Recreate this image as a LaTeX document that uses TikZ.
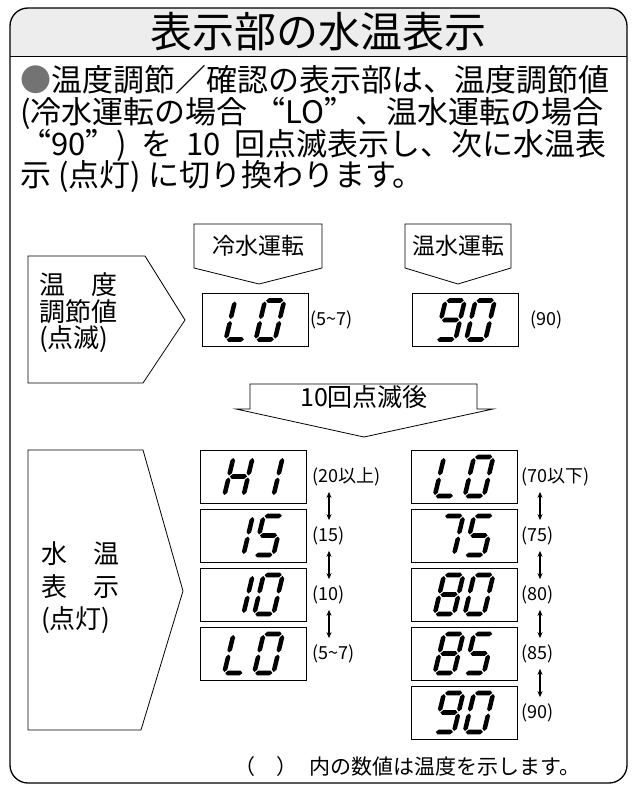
\documentclass[tikz,border=0pt]{standalone}
\usepackage{fontspec}
\setmainfont{Noto Sans CJK JP}
\usetikzlibrary{arrows.meta,calc}
\newcommand\fq[1]{{\addfontfeatures{RawFeature=+fwid}#1}}
\newcommand\hseg[3]{\fill (#1,#3) -- ({#1+2.4},{#3-2.4}) -- ({#2-2.4},{#3-2.4}) -- (#2,#3) -- ({#2-2.4},{#3+2.4}) -- ({#1+2.4},{#3+2.4}) -- cycle;}
\newcommand\vseg[3]{\fill (#1,#2) -- ({#1+2.3},{#2+2.3}) -- ({#1+2.3},{#3-2.3}) -- (#1,#3) -- ({#1-2.3},{#3-2.3}) -- ({#1-2.3},{#2+2.3}) -- cycle;}
\newcommand\sega{\hseg{-8.6}{8.6}{-19.5}}
\newcommand\segg{\hseg{-8.6}{8.6}{0}}
\newcommand\segd{\hseg{-8.6}{8.6}{19.5}}
\newcommand\segf{\vseg{-9.6}{-18.5}{-1}}
\newcommand\segb{\vseg{9.6}{-18.5}{-1}}
\newcommand\sege{\vseg{-9.6}{1}{18.5}}
\newcommand\segc{\vseg{9.6}{1}{18.5}}
\newcommand\dig[3]{\begin{scope}[shift={(#1,#2)},xslant=0.24]\foreach \s in {#3}{\csname seg\s\endcsname}\end{scope}}
\newcommand\disp[5]{\node[dispbox] (#1) at (#2,#3) {};\dig{#2-15}{#3}{#4}\dig{#2+15}{#3}{#5}}
\begin{document}
\begin{tikzpicture}[x=1pt,y=-1pt,
  frame/.style={line width=1.3pt},
  shapeline/.style={line width=0.8pt},
  dispbox/.style={draw, line width=0.9pt, minimum width=106pt, minimum height=53pt, inner sep=0pt},
  lab/.style={anchor=west, inner sep=0pt, font=\fontsize{18}{20}\selectfont},
  body/.style={anchor=west, inner sep=0pt, font=\fontsize{31}{31}\selectfont},
  dbl/.style={{Stealth[length=6pt,width=5pt]}-{Stealth[length=6pt,width=5pt]}, line width=1.1pt, shorten >=6pt, shorten <=6pt}]
\useasboundingbox (0,0) rectangle (637,787);
\begin{scope}
  \clip[rounded corners=18pt] (10,8) rectangle (627,783);
  \fill[gray!14] (0,0) rectangle (637,56);
\end{scope}
\draw[line width=0.8pt] (10,56) -- (627,56);
\draw[frame, rounded corners=18pt] (10,8) rectangle (627,783);
\node[font=\fontsize{42}{44}\selectfont] (title) at (318,32) {表示部の水温表示};
% body text
\node[body] (l1) at (20,80) {{\color{black!55}●}温度調節／確認の表示部は、温度調節値};
\node[body] (l2) at (20,113) {(冷水運転の場合 \fq{“}LO\fq{”}、温水運転の場合};
\node[body] (l3) at (20,145) {\fq{“}90\fq{”})\hspace{14pt}を\hspace{14pt}10\hspace{14pt}回点滅表示し、次に水温表};
\node[body] (l4) at (20,177) {示 (点灯) に切り換わります。};
% mode headers
\draw[shapeline] (194,224) -- (322,224) -- (322,268) -- (259,284) -- (194,268) -- cycle;
\node[font=\fontsize{23}{23}\selectfont] (cA) at (258,246) {冷水運転};
\draw[shapeline] (405,224) -- (511,224) -- (511,268) -- (458,284) -- (405,268) -- cycle;
\node[font=\fontsize{23}{23}\selectfont] (cB) at (458,246) {温水運転};
% set-value pentagon
\draw[shapeline] (28,256) -- (145,256) -- (185,320) -- (143,383) -- (28,383) -- cycle;
\node[anchor=west, inner sep=0pt, align=left, font=\fontsize{26}{26.5}\selectfont] (tA) at (39,313) {\makebox[3em]{温\hfill 度}\\調節値\\(点滅)};
% upper displays
\disp{dA}{255}{320}{d,e,f}{a,b,c,d,e,f}
\disp{dB}{465.5}{320}{a,b,c,d,f,g}{a,b,c,d,e,f}
\node[lab] (lA) at (310,320) {(5\char"7E 7)};
\node[lab] (lB) at (530,320) {(90)};
% 10 times arrow
\draw[shapeline] (250,384) -- (477,384) -- (477,409) -- (493,409) -- (364,437) -- (236,409) -- (250,409) -- cycle;
\node[font=\fontsize{25}{25}\selectfont] (ten) at (364,397) {10回点滅後};
% water temp pentagon
\draw[shapeline] (28,450) -- (143,450) -- (183,591) -- (141,730) -- (28,730) -- cycle;
\node[anchor=west, inner sep=0pt, align=left, font=\fontsize{26}{32.5}\selectfont] (tB) at (41,588) {\makebox[3em]{水\hfill 温}\\\makebox[3em]{表\hfill 示}\\(点灯)};
% lower displays
\disp{L1}{253.5}{476.5}{b,c,e,f,g}{b,c}
\disp{L2}{253.5}{535.5}{b,c}{a,c,d,f,g}
\disp{L3}{253.5}{594.5}{b,c}{a,b,c,d,e,f}
\disp{L4}{253.5}{653.5}{d,e,f}{a,b,c,d,e,f}
\disp{R1}{464}{476.5}{d,e,f}{a,b,c,d,e,f}
\disp{R2}{464}{535.5}{a,b,c}{a,c,d,f,g}
\disp{R3}{464}{594.5}{a,b,c,d,e,f,g}{a,b,c,d,e,f}
\disp{R4}{464}{653.5}{a,b,c,d,e,f,g}{a,c,d,f,g}
\disp{R5}{464}{712.5}{a,b,c,d,f,g}{a,b,c,d,e,f}
\node[lab] (p1) at (312,476.5) {(20以上)};
\node[lab] (p2) at (312,535.5) {(15)};
\node[lab] (p3) at (312,594.5) {(10)};
\node[lab] (p4) at (312,653.5) {(5\char"7E 7)};
\node[lab] (q1) at (521,476.5) {(70以下)};
\node[lab] (q2) at (521,535.5) {(75)};
\node[lab] (q3) at (521,594.5) {(80)};
\node[lab] (q4) at (521,653.5) {(85)};
\node[lab] (q5) at (521,712.5) {(90)};
\coordinate (acL) at (329,0);
\coordinate (acR) at (540,0);
\draw[dbl] (acL |- p1.south) -- (acL |- p2.north);
\draw[dbl] (acL |- p2.south) -- (acL |- p3.north);
\draw[dbl] (acL |- p3.south) -- (acL |- p4.north);
\draw[dbl] (acR |- q1.south) -- (acR |- q2.north);
\draw[dbl] (acR |- q2.south) -- (acR |- q3.north);
\draw[dbl] (acR |- q3.south) -- (acR |- q4.north);
\draw[dbl] (acR |- q4.south) -- (acR |- q5.north);
% footer
\node[anchor=west, inner sep=0pt, font=\fontsize{21}{21}\selectfont] (foot) at (234,767) {（\hspace{21pt}）\hspace{12pt}内の数値は温度を示します。};
\end{tikzpicture}
\end{document}
